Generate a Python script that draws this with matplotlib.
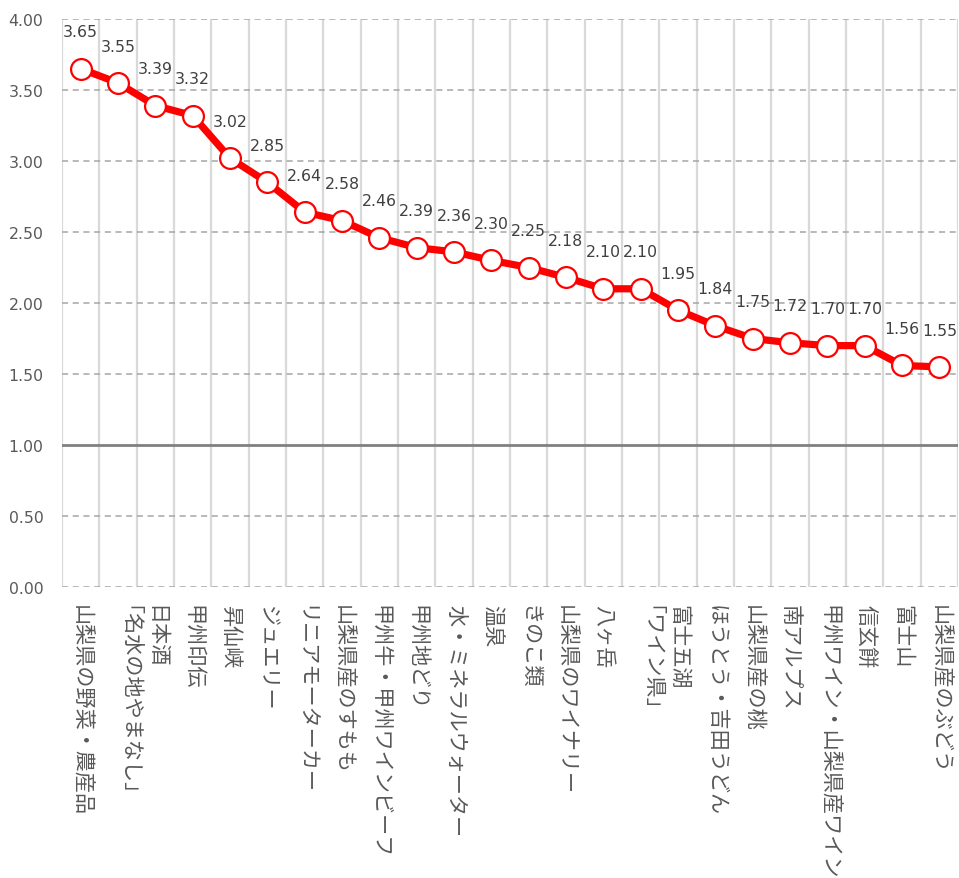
import matplotlib
matplotlib.use("Agg")
import matplotlib.pyplot as plt
import numpy as np

categories = ["山梨県の野菜・農産品", "「名水の地やまなし」", "日本酒", "甲州印伝", "昇仙峡",
              "ジュエリー", "リニアモーターカー", "山梨県産のすもも", "甲州牛・甲州ワインビーフ",
              "甲州地どり", "水・ミネラルウォーター", "温泉", "きのこ類", "山梨県のワイナリー",
              "八ヶ岳", "「ワイン県」", "富士五湖", "ほうとう・吉田うどん", "山梨県産の桃",
              "南アルプス", "甲州ワイン・山梨県産ワイン", "信玄餅", "富士山", "山梨県産のぶどう"]
values = [3.65, 3.55, 3.39, 3.32, 3.02, 2.85, 2.64, 2.58, 2.46, 2.39, 2.36, 2.30, 2.25,
          2.18, 2.10, 2.10, 1.95, 1.84, 1.75, 1.72, 1.70, 1.70, 1.56, 1.55]
yticks = [0.0, 0.5, 1.0, 1.5, 2.0, 2.5, 3.0, 3.5, 4.0]

plt.rcParams['font.family'] = ['DejaVu Sans', 'Noto Sans CJK JP']

fig = plt.figure(figsize=(9.59, 8.79), dpi=100)
W, H = 959, 879
ax = fig.add_axes([62 / W, (H - 588) / H, 896 / W, 568 / H])

x = np.arange(len(categories))
ax.set_xlim(-0.5, len(categories) - 0.5)
ax.set_ylim(0, 4)

# vertical gridlines at category boundaries
for b in np.arange(-0.5, len(categories), 1.0):
    ax.axvline(b, color="#D9D9D9", lw=1.6, zorder=1)
# horizontal dashed gridlines
for t in yticks:
    if t == 1.0:
        ax.axhline(t, color="#808080", lw=2.0, zorder=2)
    else:
        ax.axhline(t, color="#A6A6A6", lw=1.1, ls=(0, (4, 3)), zorder=1.5)

ax.plot(x, values, color="#FF0000", lw=5.2, zorder=3, solid_capstyle="round",
        marker="o", markersize=15, markerfacecolor="white",
        markeredgecolor="#FF0000", markeredgewidth=1.6)

for xi, v in zip(x, values):
    ax.annotate(f"{v:.2f}", (xi, v), xytext=(0, 26.5), textcoords="offset points",
                ha="center", va="center", fontsize=11.3, color="#404040", zorder=4)

for s in ax.spines.values():
    s.set_visible(False)

ax.set_yticks(yticks)
ax.set_yticklabels([f"{t:.2f}" for t in yticks], fontsize=11.3, color="#595959")
ax.tick_params(axis="y", length=0, pad=13.5)
ax.set_xticks(x)
ax.set_xticklabels(categories, rotation=-90, fontsize=15.2, color="#595959",
                   family=['Noto Sans CJK JP', 'DejaVu Sans'], ha="center", va="top")
ax.tick_params(axis="x", length=0, pad=12)

fig.savefig("out.png", dpi=100)
